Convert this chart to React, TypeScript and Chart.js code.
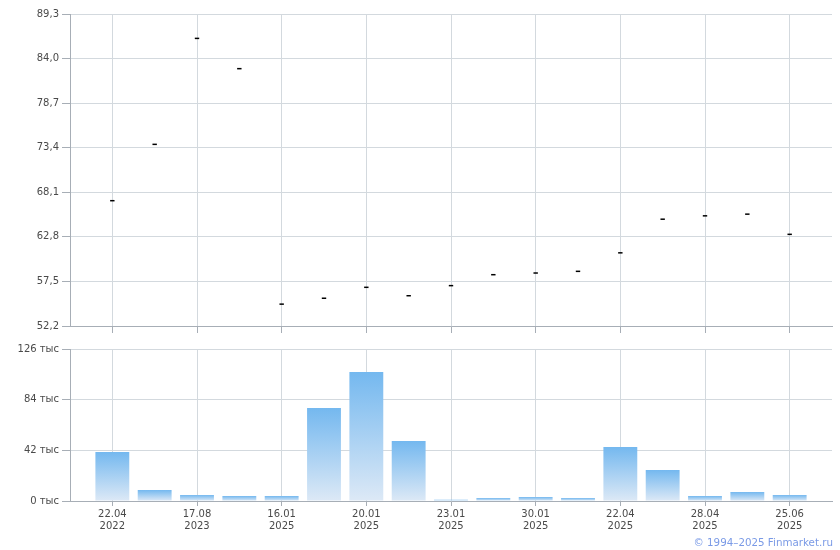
import React, { useEffect, useRef } from "react";
import { Chart, registerables } from "chart.js";

Chart.register(...registerables);

const categories: string[][] = [
  ["22.04", "2022"], ["", ""], ["17.08", "2023"], ["", ""], ["16.01", "2025"], ["", ""],
  ["20.01", "2025"], ["", ""], ["23.01", "2025"], ["", ""], ["30.01", "2025"], ["", ""],
  ["22.04", "2025"], ["", ""], ["28.04", "2025"], ["", ""], ["25.06", "2025"],
];
const labeledIndices = [0, 2, 4, 6, 8, 10, 12, 14, 16];
const priceValues = [67.1, 73.8, 86.4, 82.8, 54.8, 55.5, 56.8, 55.8, 57.0, 58.3, 58.5, 58.7, 60.9, 64.9, 65.3, 65.5, 63.1];
const priceTicks = [52.2, 57.5, 62.8, 68.1, 73.4, 78.7, 84.0, 89.3];
const volumeValues = [40.6, 9.1, 5.0, 4.1, 4.1, 77.1, 107.0, 49.8, 1.0, 2.5, 3.3, 2.5, 44.8, 25.7, 4.1, 7.5, 5.0];
const volumeTicks = [0, 42, 84, 126];

const FONT = { family: "'DejaVu Sans', Verdana, sans-serif", size: 10 };
const TEXT = "#4a4a4a";
const GRID = "#d3d9de";
const AXIS = "#a7aeb6";

export default function App() {
  const topRef = useRef<HTMLCanvasElement>(null);
  const botRef = useRef<HTMLCanvasElement>(null);

  useEffect(() => {
    const xCommon = (showLabels: boolean, tickLen: number, height: number) => ({
      type: "linear" as const,
      min: -1,
      max: 17,
      offset: false,
      afterBuildTicks: (axis: any) => {
        axis.ticks = labeledIndices.map((v) => ({ value: v }));
      },
      afterFit: (axis: any) => {
        axis.height = height;
      },
      grid: { color: GRID, tickColor: AXIS, tickLength: tickLen, drawTicks: true, offset: false },
      border: { color: AXIS, width: 1 },
      ticks: {
        display: showLabels,
        autoSkip: false,
        maxRotation: 0,
        padding: 2,
        color: TEXT,
        font: FONT,
        callback: (v: any) => categories[Math.round(Number(v))] || "",
      },
    });

    const top = new Chart(topRef.current!, {
      type: "line",
      data: {
        datasets: [
          {
            data: priceValues.map((v, i) => ({ x: i, y: v })),
            showLine: false,
            pointStyle: "line",
            pointRadius: 2.2,
            pointBorderWidth: 1.5,
            pointBorderColor: "#000",
            pointBackgroundColor: "#000",
          },
        ],
      },
      options: {
        responsive: false,
        animation: false,
        layout: { padding: { top: 14, right: 8, left: 0, bottom: 0 } },
        plugins: { legend: { display: false }, tooltip: { enabled: false } },
        scales: {
          x: xCommon(false, 7, 12) as any,
          y: {
            min: 52.2,
            max: 89.3,
            afterBuildTicks: (axis: any) => {
              axis.ticks = priceTicks.map((v) => ({ value: v }));
            },
            afterFit: (axis: any) => {
              axis.width = 70;
            },
            grid: { color: GRID, tickColor: AXIS, tickLength: 8 },
            border: { color: AXIS },
            ticks: {
              padding: 3,
              color: TEXT,
              font: FONT,
              callback: (v: any) => Number(v).toFixed(1).replace(".", ","),
            },
          },
        },
      },
    });

    const bot = new Chart(botRef.current!, {
      type: "bar",
      data: {
        datasets: [
          {
            data: volumeValues.map((v, i) => ({ x: i, y: v })),
            barPercentage: 0.8,
            categoryPercentage: 1,
            backgroundColor: (ctx: any) => {
              const chart = ctx.chart;
              const y = chart.scales?.y;
              if (!y || !ctx.raw) return "#9fcdf3";
              const t = y.getPixelForValue(ctx.raw.y);
              const b = y.getPixelForValue(0);
              if (!isFinite(t) || !isFinite(b) || t === b) return "#9fcdf3";
              const g = chart.ctx.createLinearGradient(0, t, 0, b);
              g.addColorStop(0, "#74b8ef");
              g.addColorStop(1, "#dde9f6");
              return g;
            },
          },
        ],
      },
      options: {
        responsive: false,
        animation: false,
        layout: { padding: { top: 13, right: 8, left: 0, bottom: 0 } },
        plugins: { legend: { display: false }, tooltip: { enabled: false } },
        scales: {
          x: xCommon(true, 5, 35) as any,
          y: {
            min: 0,
            max: 126,
            afterBuildTicks: (axis: any) => {
              axis.ticks = volumeTicks.map((v) => ({ value: v }));
            },
            afterFit: (axis: any) => {
              axis.width = 70;
            },
            grid: { color: GRID, tickColor: AXIS, tickLength: 8 },
            border: { color: AXIS },
            ticks: {
              padding: 3,
              color: TEXT,
              font: FONT,
              callback: (v: any) => `${v} тыс`,
            },
          },
        },
      },
    });

    return () => {
      top.destroy();
      bot.destroy();
    };
  }, []);

  return (
    <div style={{ position: "absolute", left: 0, top: 0, width: 840, height: 550, background: "#fff", overflow: "hidden" }}>
      <canvas ref={topRef} width={840} height={338} style={{ position: "absolute", left: 0, top: 0 }} />
      <canvas ref={botRef} width={840} height={200} style={{ position: "absolute", left: 0, top: 336 }} />
      <div
        style={{
          position: "absolute",
          right: 7,
          top: 536,
          fontFamily: "'DejaVu Sans', Verdana, sans-serif",
          fontSize: 10.3,
          color: "#7a9ae6",
          lineHeight: "13px",
          whiteSpace: "nowrap",
        }}
      >
        © 1994–2025 Finmarket.ru
      </div>
    </div>
  );
}
